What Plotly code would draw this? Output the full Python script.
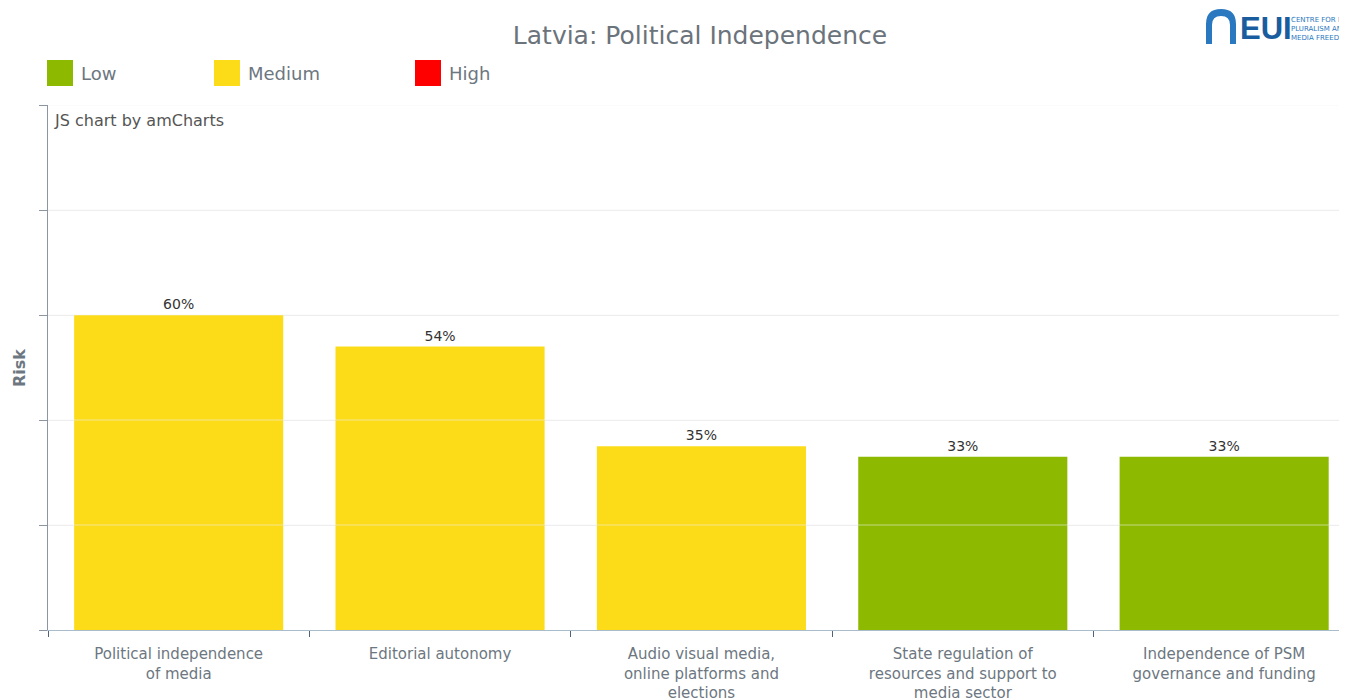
import plotly.graph_objects as go

categories = [
    "Political independence<br>of media",
    "Editorial autonomy",
    "Audio visual media,<br>online platforms and<br>elections",
    "State regulation of<br>resources and support to<br>media sector",
    "Independence of PSM<br>governance and funding",
]
values = [60, 54, 35, 33, 33]
risk_levels = ["Medium", "Medium", "Medium", "Low", "Low"]
level_names = ["Low", "Medium", "High"]
level_colors = {"Low": "#8dba00", "Medium": "#fcdb19", "High": "#ff0000"}
y_ticks = [0, 20, 40, 60, 80, 100]

FONT = "DejaVu Sans"
GRAY = "#6d7781"

# page (screenshot) pixel -> paper coords (page has 8px body margin)
px = lambda x: (x - 48) / 1299
py = lambda y: (630 - y) / 525

fig = go.Figure()
fig.add_trace(go.Bar(
    x=categories,
    y=values,
    width=0.8,
    marker=dict(color=[level_colors[r] for r in risk_levels], line=dict(width=0)),
    text=[f"{v}%" for v in values],
    textposition="outside",
    textfont=dict(family=FONT, size=14, color="#333333"),
    cliponaxis=False,
    showlegend=False,
    hoverinfo="skip",
))

shapes = []
for t in y_ticks[1:]:
    shapes.append(dict(type="line", xref="paper", yref="y", x0=0, x1=1, y0=t, y1=t,
                       line=dict(color="rgba(240,240,240,0.55)", width=1), layer="above"))

annotations = []
leg_x = [47, 214, 415]
for name, lx in zip(level_names, leg_x):
    shapes.append(dict(type="rect", xref="paper", yref="paper",
                       x0=px(lx), x1=px(lx + 26), y0=py(86), y1=py(60),
                       fillcolor=level_colors[name], line=dict(width=0)))
    annotations.append(dict(text=name, xref="paper", yref="paper",
                            x=px(lx + 32), y=py(73),
                            xanchor="left", yanchor="middle", showarrow=False,
                            font=dict(family=FONT, size=18, color=GRAY)))

annotations.append(dict(text="JS chart by amCharts", xref="paper", yref="paper",
                        x=px(52), y=py(121),
                        xanchor="left", yanchor="middle", showarrow=False,
                        font=dict(family=FONT, size=16, color="#555555")))

annotations.append(dict(text="<b>Risk</b>", xref="paper", yref="paper",
                        x=px(19), y=py(368), textangle=-90,
                        xanchor="center", yanchor="middle", showarrow=False,
                        font=dict(family=FONT, size=16, color=GRAY)))

# Logo (approximation)
shapes.append(dict(type="path", xref="paper", yref="paper",
                   path=(f"M {px(1206)} {py(44)} L {px(1206)} {py(24)} "
                         f"Q {px(1206)} {py(9)} {px(1221)} {py(9)} "
                         f"Q {px(1236)} {py(9)} {px(1236)} {py(24)} "
                         f"L {px(1236)} {py(44)} L {px(1230)} {py(44)} L {px(1230)} {py(25)} "
                         f"Q {px(1230)} {py(16)} {px(1221)} {py(16)} "
                         f"Q {px(1212)} {py(16)} {px(1212)} {py(25)} "
                         f"L {px(1212)} {py(44)} Z"),
                   fillcolor="#2a78c0", line=dict(width=0)))
annotations.append(dict(text="<b>EUI</b>", xref="paper", yref="paper",
                        x=px(1238), y=py(29), xanchor="left", yanchor="middle",
                        showarrow=False,
                        font=dict(family="Liberation Sans Narrow, Liberation Sans", size=31,
                                  color="#1a5d9e")))
annotations.append(dict(text="CENTRE FOR MEDIA<br>PLURALISM AND<br>MEDIA FREEDOM",
                        xref="paper", yref="paper", x=px(1289), y=py(29),
                        xanchor="left", yanchor="middle", align="left",
                        showarrow=False,
                        font=dict(family=FONT, size=7, color="#2a78c0")))

fig.update_layout(
    width=1339, height=692,
    margin=dict(l=40, r=0, t=97, b=70, autoexpand=False),
    paper_bgcolor="white", plot_bgcolor="white",
    title=dict(text="Latvia: Political Independence", x=692 / 1339, xanchor="center",
               xref="container", y=1 - 27 / 692, yanchor="middle",
               font=dict(family=FONT, size=25, color="#6b737b")),
    shapes=shapes, annotations=annotations,
    xaxis=dict(
        type="category",
        range=[-0.5, 4.47],
        automargin=False,
        tickson="boundaries", ticks="outside", ticklen=6, tickcolor="#4f6478",
        showline=True, linecolor="#a9bccb", linewidth=1,
        showgrid=False, zeroline=False,
        tickfont=dict(family=FONT, size=15, color=GRAY),
        ticklabelstandoff=10,
        fixedrange=True,
    ),
    yaxis=dict(
        range=[0, 100], tickmode="array", tickvals=y_ticks,
        automargin=False,
        showticklabels=False, ticks="outside", ticklen=8, tickcolor="#8c96a0",
        showline=True, linecolor="#8c96a0", linewidth=1,
        showgrid=True, gridcolor="#eeeeee", zeroline=False,
        fixedrange=True,
    ),
)

fig.write_html("out.html")
